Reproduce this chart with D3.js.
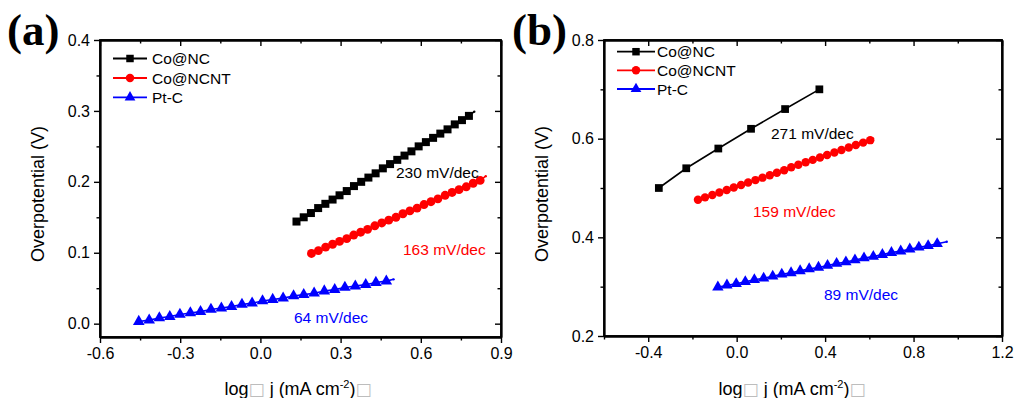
<!DOCTYPE html>
<html><head><meta charset="utf-8">
<script src="https://cdn.jsdelivr.net/npm/d3@7"></script>
<style>
body{margin:0;background:#fff;}
svg text{font-family:"Liberation Sans",Arial,sans-serif;}
</style></head>
<body><svg id="c" width="1016" height="398"></svg>
<script>
// ---------- Data: panel (a) ----------
const seriesNames = ["Co@NC","Co@NCNT","Pt-C"];
const a_NC_x = [0.135,0.162,0.189,0.216,0.243,0.270,0.296,0.323,0.350,0.377,0.404,0.431,0.458,0.485,0.512,0.539,0.565,0.592,0.619,0.646,0.673,0.700,0.727,0.754,0.780];
const a_NC_y = [0.144,0.150,0.156,0.163,0.169,0.175,0.181,0.187,0.194,0.200,0.206,0.212,0.219,0.225,0.231,0.237,0.243,0.250,0.256,0.262,0.268,0.274,0.281,0.287,0.293];
const a_NC_tail = [0.800,0.299];
const a_NCNT_x = [0.191,0.217,0.244,0.270,0.296,0.323,0.349,0.375,0.401,0.428,0.454,0.480,0.507,0.533,0.559,0.586,0.612,0.638,0.664,0.691,0.717,0.743,0.770,0.796,0.822];
const a_NCNT_y = [0.099,0.103,0.108,0.112,0.116,0.120,0.125,0.129,0.133,0.138,0.142,0.146,0.150,0.155,0.159,0.163,0.168,0.172,0.176,0.181,0.185,0.189,0.193,0.198,0.202];
const a_NCNT_tail = [0.843,0.208];
const a_Pt_x = [-0.455,-0.416,-0.378,-0.339,-0.301,-0.262,-0.224,-0.185,-0.146,-0.108,-0.069,-0.031,0.008,0.046,0.085,0.124,0.162,0.201,0.239,0.278,0.316,0.355,0.394,0.432,0.471];
const a_Pt_y = [0.003,0.005,0.008,0.010,0.013,0.015,0.017,0.020,0.022,0.024,0.027,0.029,0.032,0.034,0.036,0.039,0.041,0.043,0.046,0.048,0.051,0.053,0.055,0.058,0.060];
const a_Pt_tail = [0.498,0.0625];
const a_xMajor = [-0.6,-0.3,0.0,0.3,0.6,0.9];
const a_xMinor = [-0.45,-0.15,0.15,0.45,0.75];
const a_yMajor = [0.0,0.1,0.2,0.3,0.4];
const a_yMinor = [0.05,0.15,0.25,0.35];
const a_slopes = ["230 mV/dec","163 mV/dec","64 mV/dec"];

// ---------- Data: panel (b) ----------
const b_NC_x = [-0.352,-0.228,-0.083,0.065,0.219,0.374];
const b_NC_y = [0.50,0.54,0.58,0.62,0.66,0.70];
const b_NCNT_x = [-0.175,-0.143,-0.110,-0.078,-0.045,-0.013,0.020,0.052,0.085,0.117,0.150,0.182,0.215,0.247,0.279,0.312,0.344,0.377,0.409,0.442,0.474,0.507,0.539,0.572,0.604];
const b_NCNT_y = [0.476,0.481,0.486,0.491,0.496,0.501,0.506,0.511,0.516,0.521,0.526,0.531,0.536,0.542,0.547,0.552,0.557,0.562,0.567,0.572,0.577,0.582,0.587,0.592,0.597];
const b_NCNT_tail = [0.617,0.600];
const b_Pt_x = [-0.085,-0.044,-0.002,0.039,0.080,0.122,0.163,0.204,0.246,0.287,0.328,0.370,0.411,0.452,0.494,0.535,0.576,0.618,0.659,0.700,0.742,0.783,0.824,0.866,0.907];
const b_Pt_y = [0.299,0.303,0.306,0.310,0.314,0.317,0.321,0.325,0.328,0.332,0.336,0.339,0.343,0.347,0.350,0.354,0.358,0.361,0.365,0.369,0.372,0.376,0.380,0.383,0.387];
const b_Pt_tail = [0.950,0.391];
const b_xMajor = [-0.4,0.0,0.4,0.8,1.2];
const b_xMinor = [-0.6,-0.2,0.2,0.6,1.0];
const b_yMajor = [0.2,0.4,0.6,0.8];
const b_yMinor = [0.3,0.5,0.7];
const b_slopes = ["271 mV/dec","159 mV/dec","89 mV/dec"];

const colors = ["#000000","#ff0000","#0000ff"];
const symbols = [d3.symbolSquare, d3.symbolCircle, d3.symbolTriangle];
const legSymSize = [56, 56, 50];

const svg = d3.select("#c");

function zip(xs, ys){ return xs.map((x,i)=>[x,ys[i]]); }
const fmt1 = v => d3.format(".1f")(v).replace("\u2212","-");

function panel(cfg){
  const x = d3.scaleLinear().domain(cfg.xDom).range([cfg.L, cfg.R]);
  const y = d3.scaleLinear().domain(cfg.yDom).range([cfg.B, cfg.T]);
  const g = svg.append("g");

  // series
  cfg.series.forEach((s,i)=>{
    const pts = zip(s.x, s.y);
    const linePts = s.tail ? pts.concat([s.tail]) : pts;
    g.append("path").datum(linePts)
      .attr("d", d3.line().x(d=>x(d[0])).y(d=>y(d[1])))
      .attr("fill","none").attr("stroke",colors[i]).attr("stroke-width",1.6);
    if (s.tail) g.append("circle").attr("cx",x(s.tail[0])).attr("cy",y(s.tail[1])).attr("r",1.2).attr("fill",colors[i]);
    g.selectAll(null).data(pts).join("path")
      .attr("transform",d=>`translate(${x(d[0])},${y(d[1])})`)
      .attr("d", d3.symbol().type(symbols[i]).size(cfg.symSize[i]))
      .attr("fill",colors[i]);
  });

  // axes
  const ax = (axis, tr) => {
    const a = g.append("g").attr("transform",tr).call(axis);
    a.select(".domain").attr("stroke-width",1.8);
    a.selectAll(".tick line").attr("stroke-width",1.4);
    a.selectAll("text").style("font-size","16px").style("font-family","Liberation Sans, Arial, sans-serif").attr("fill","#000");
    return a;
  };
  ax(d3.axisBottom(x).tickValues(cfg.xMajor).tickFormat(fmt1).tickSize(6).tickSizeOuter(0).tickPadding(5), `translate(0,${cfg.B})`);
  ax(d3.axisBottom(x).tickValues(cfg.xMinor).tickFormat("").tickSize(3.5).tickSizeOuter(0), `translate(0,${cfg.B})`);
  ax(d3.axisTop(x).tickValues(cfg.xMajor).tickFormat("").tickSize(-6).tickSizeOuter(0), `translate(0,${cfg.T})`);
  ax(d3.axisTop(x).tickValues(cfg.xMinor).tickFormat("").tickSize(-3.5).tickSizeOuter(0), `translate(0,${cfg.T})`);
  ax(d3.axisLeft(y).tickValues(cfg.yMajor).tickFormat(fmt1).tickSize(6).tickSizeOuter(0).tickPadding(4), `translate(${cfg.L},0)`);
  ax(d3.axisLeft(y).tickValues(cfg.yMinor).tickFormat("").tickSize(3.5).tickSizeOuter(0), `translate(${cfg.L},0)`);
  ax(d3.axisRight(y).tickValues(cfg.yMajor).tickFormat("").tickSize(-6).tickSizeOuter(0), `translate(${cfg.R},0)`);
  ax(d3.axisRight(y).tickValues(cfg.yMinor).tickFormat("").tickSize(-3.5).tickSizeOuter(0), `translate(${cfg.R},0)`);
  g.append("rect").attr("x",cfg.L).attr("y",cfg.T).attr("width",cfg.R-cfg.L).attr("height",cfg.B-cfg.T)
    .attr("fill","none").attr("stroke","#000").attr("stroke-width",1.8);

  // legend
  cfg.legendRows.forEach((ry,i)=>{
    g.append("line").attr("x1",cfg.legX1).attr("x2",cfg.legX2).attr("y1",ry).attr("y2",ry)
      .attr("stroke",colors[i]).attr("stroke-width",1.8);
    g.append("path").attr("transform",`translate(${(cfg.legX1+cfg.legX2)/2},${ry})`)
      .attr("d", d3.symbol().type(symbols[i]).size(legSymSize[i])).attr("fill",colors[i]);
    g.append("text").attr("x",cfg.legTX).attr("y",ry).attr("dy","0.36em")
      .style("font-size","15.5px").text(seriesNames[i]);
  });

  // slope annotations
  cfg.slopePos.forEach((p,i)=>{
    g.append("text").attr("x",p[0]).attr("y",p[1]).attr("dy","0.36em")
      .style("font-size","15.5px").attr("fill",colors[i]).text(cfg.slopes[i]);
  });

  // y title
  g.append("text").attr("transform",`translate(${cfg.yTitleX},${cfg.yTitleY}) rotate(-90)`)
    .attr("text-anchor","middle").attr("dy","0.36em").style("font-size","18px").text("Overpotential (V)");
  // x title
  const xt = g.append("text").attr("x",cfg.xTitleX).attr("y",395).attr("text-anchor","middle").style("font-size","18px");
  xt.append("tspan").text("log");
  xt.append("tspan").attr("fill","#bdbdbd").style("font-family","DejaVu Sans").style("font-size","17px").text("□");
  xt.append("tspan").text(" j (mA cm");
  xt.append("tspan").attr("dy",-7).style("font-size","11px").text("-2");
  xt.append("tspan").attr("dy",7).text(")");
  xt.append("tspan").attr("fill","#bdbdbd").style("font-family","DejaVu Sans").style("font-size","17px").text("□");

  // panel label
  svg.append("text").attr("x",cfg.labX).attr("y",45)
    .style("font-family","Liberation Serif, Times New Roman, serif").style("font-weight","bold")
    .style("font-size","45px").text(cfg.label);
}

panel({
  L:100, R:501, T:40, B:337,
  xDom:[-0.6,0.9], yDom:[-0.0188,0.4],
  xMajor:a_xMajor, xMinor:a_xMinor, yMajor:a_yMajor, yMinor:a_yMinor,
  series:[{x:a_NC_x,y:a_NC_y,tail:a_NC_tail},{x:a_NCNT_x,y:a_NCNT_y,tail:a_NCNT_tail},{x:a_Pt_x,y:a_Pt_y,tail:a_Pt_tail}],
  symSize:[64,62,58],
  legendRows:[58.5,78,97.3], legX1:113, legX2:147, legTX:152,
  slopes:a_slopes, slopePos:[[396,172],[403,249],[294,317]],
  yTitleX:38, yTitleY:194, xTitleX:298, labX:7, label:"(a)"
});

panel({
  L:604, R:1002, T:40, B:336,
  xDom:[-0.6,1.2], yDom:[0.2,0.8],
  xMajor:b_xMajor, xMinor:b_xMinor, yMajor:b_yMajor, yMinor:b_yMinor,
  series:[{x:b_NC_x,y:b_NC_y},{x:b_NCNT_x,y:b_NCNT_y,tail:b_NCNT_tail},{x:b_Pt_x,y:b_Pt_y,tail:b_Pt_tail}],
  symSize:[60,56,56],
  legendRows:[51.7,70.3,89], legX1:617, legX2:655, legTX:657,
  slopes:b_slopes, slopePos:[[771,133],[753,211],[824,294]],
  yTitleX:542, yTitleY:194, xTitleX:792, labX:512, label:"(b)"
});
</script></body></html>
